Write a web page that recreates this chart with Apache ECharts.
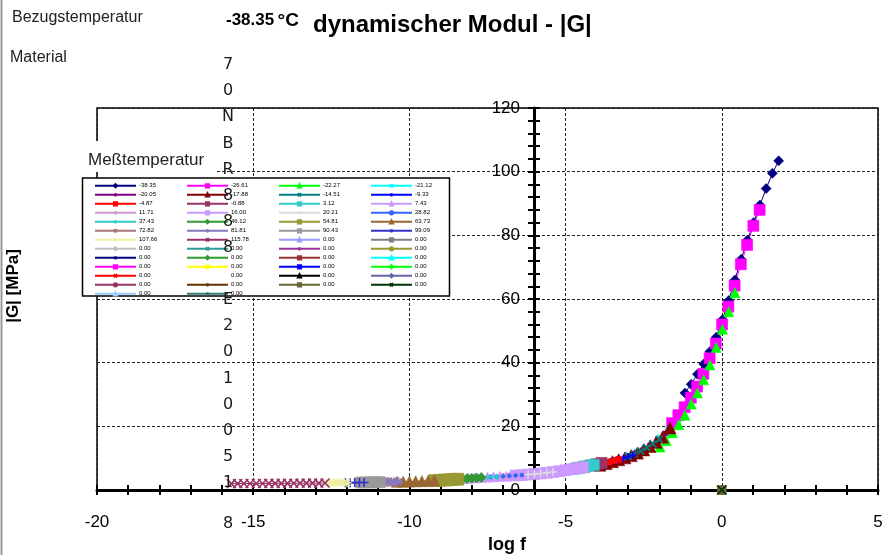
<!DOCTYPE html>
<html><head><meta charset="utf-8">
<script src="https://cdn.jsdelivr.net/npm/echarts@6/dist/echarts.min.js"></script>
<style>html,body{margin:0;padding:0;background:#fff}#c{width:889px;height:555px}</style>
</head><body><div id="c"></div>
<script>
// ---------- data (log f, |G| in MPa) ----------
const temperatures = ['-38.35','-26.61','-22.27','-21.12','-20.05','-17.88','-14.51','-9.33','-4.87','-0.88',
  '3.12','7.43','11.71','16.00','20.21','28.82','37.43','46.12','54.81','63.73','72.82','81.81','90.43','99.09',
  '107.66','115.78','0.00','0.00','0.00','0.00','0.00','0.00','0.00','0.00','0.00','0.00','0.00','0.00','0.00',
  '0.00','0.00','0.00','0.00','0.00','0.00','0.00','0.00','0.00','0.00','0.00'];

const pts_m38_35 = [[-1.18,30.5],[-0.98,33.2],[-0.78,36.4],[-0.58,39.6],[-0.38,43.5],[-0.18,48.0],[0.02,53.5],[0.22,59.5],[0.42,66.0],[0.62,72.5],[0.82,78.5],[1.02,84.0],[1.22,89.5],[1.42,94.7],[1.62,99.5],[1.82,103.4]];
const pts_m26_61 = [[-1.59,21.0],[-1.39,23.5],[-1.19,26.0],[-0.99,29.0],[-0.79,32.5],[-0.59,36.5],[-0.39,41.4],[-0.19,46.0],[0.01,52.0],[0.21,57.6],[0.41,64.2],[0.61,70.9],[0.81,77.0],[1.01,83.0],[1.21,88.0]];
const pts_m22_27 = [[-1.98,13.5],[-1.78,15.5],[-1.58,18.0],[-1.38,20.5],[-1.18,23.5],[-0.98,27.0],[-0.78,30.5],[-0.58,34.6],[-0.38,39.3],[-0.18,44.8],[0.02,50.5],[0.22,56.0],[0.42,62.0]];
const pts_m21_12 = [[-3.7,8.5],[-3.45,9.1],[-3.2,9.9],[-2.95,10.7],[-2.7,11.8],[-2.45,13.1],[-2.2,14.6],[-1.95,16.4],[-1.7,18.6]];
const pts_m20_05 = [[-3.8,8.3],[-3.55,8.9],[-3.3,9.6],[-3.05,10.4],[-2.8,11.4],[-2.55,12.5],[-2.3,14.0],[-2.05,15.7],[-1.8,17.8]];
const pts_m17_88 = [[-3.9,7.8],[-3.7,8.3],[-3.5,8.9],[-3.3,9.5],[-3.1,10.1],[-2.9,10.8],[-2.7,11.6],[-2.5,12.6],[-2.3,13.7],[-2.1,15.0],[-1.9,16.6],[-1.66,19.5]];
const pts_m14_51 = [[-3.0,10.5],[-2.8,11.3],[-2.6,12.2],[-2.4,13.3],[-2.2,14.5],[-2.0,15.9]];
const pts_m9_33  = [[-3.6,8.8],[-3.45,9.2],[-3.3,9.6],[-3.15,10.0],[-3.0,10.5],[-2.85,11.0]];
const pts_m4_87  = [[-3.75,8.4],[-3.6,8.8],[-3.45,9.2],[-3.3,9.6]];
const pts_m0_88  = [[-4.6,6.9],[-4.4,7.3],[-4.2,7.7],[-4.0,8.1],[-3.85,8.5]];
const pts_3_12   = [[-4.7,6.7],[-4.55,7.0],[-4.4,7.3],[-4.25,7.6],[-4.1,7.9]];
const pts_7_43   = [[-8.3,3.6],[-8.1,3.7],[-7.9,3.8],[-7.7,3.95],[-7.5,4.05],[-7.3,4.15],[-7.1,4.25],[-6.9,4.35],[-6.7,4.5],[-6.5,4.6]];
const pts_11_71  = [[-7.0,4.3],[-6.8,4.45],[-6.6,4.55],[-6.4,4.7],[-6.2,4.85],[-6.0,5.0]];
const pts_16_00  = [[-6.6,4.55],[-6.4,4.7],[-6.2,4.85],[-6.0,5.0],[-5.8,5.2],[-5.6,5.4],[-5.4,5.65],[-5.2,5.9],[-5.0,6.2],[-4.8,6.5],[-4.6,6.85],[-4.45,7.1]];
const pts_20_21  = [[-6.2,4.85],[-6.0,5.0],[-5.8,5.2],[-5.6,5.4],[-5.4,5.65]];
const pts_28_82  = [[-7.4,4.1],[-7.2,4.2],[-7.0,4.3],[-6.8,4.45],[-6.6,4.55],[-6.4,4.7]];
const pts_37_43  = [[-7.8,3.85],[-7.65,3.92],[-7.5,4.0],[-7.35,4.08],[-7.2,4.2]];
const pts_46_12  = [[-8.45,3.4],[-8.3,3.5],[-8.15,3.6],[-8.0,3.7],[-7.85,3.8],[-7.7,3.9]];
const pts_54_81  = [[-9.2,2.95],[-9.05,3.03],[-8.9,3.12],[-8.75,3.2],[-8.6,3.3],[-8.45,3.4]];
const pts_63_73  = [[-10.4,2.57],[-10.2,2.62],[-10.0,2.66],[-9.8,2.72],[-9.6,2.78],[-9.4,2.86],[-9.2,2.95]];
const pts_72_82  = [[-11.0,2.45],[-10.85,2.48],[-10.7,2.5],[-10.55,2.53]];
const pts_81_81  = [[-10.8,2.48],[-10.65,2.51],[-10.5,2.55],[-10.35,2.58]];
const pts_90_43  = [[-11.55,2.36],[-11.4,2.38],[-11.25,2.41],[-11.1,2.43],[-10.95,2.46]];
const pts_99_09  = [[-12.05,2.29],[-11.9,2.31],[-11.75,2.33],[-11.6,2.35],[-11.45,2.37]];
const pts_107_66 = [[-12.6,2.2],[-12.45,2.22],[-12.3,2.25],[-12.15,2.27],[-12.0,2.3]];
const pts_115_78 = [[-15.7,2.0],[-15.5,2.02],[-15.3,2.03],[-15.1,2.05],[-14.9,2.05],[-14.7,2.06],[-14.5,2.07],[-14.3,2.08],[-14.1,2.09],[-13.9,2.1],[-13.7,2.12],[-13.5,2.14],[-13.3,2.15],[-13.1,2.17],[-12.9,2.18],[-12.7,2.2]];
const pts_zero   = [[0,0]];

const seriesPoints = [pts_m38_35,pts_m26_61,pts_m22_27,pts_m21_12,pts_m20_05,pts_m17_88,pts_m14_51,pts_m9_33,pts_m4_87,pts_m0_88,
  pts_3_12,pts_7_43,pts_11_71,pts_16_00,pts_20_21,pts_28_82,pts_37_43,pts_46_12,pts_54_81,pts_63_73,pts_72_82,pts_81_81,pts_90_43,pts_99_09,
  pts_107_66,pts_115_78];
// ---------- styles ----------
const colors = ['#000080','#FF00FF','#00FF00','#00FFFF','#800080','#800000','#008080','#0000FF','#FF0000','#993366',
  '#33CCCC','#CC99FF','#CC99CC','#CC99FF','#DDDDDD','#3366FF','#33CCCC','#339933','#999933','#996633','#AA7777','#8877BB','#999999','#3333CC',
  '#EEEEA0','#993366','#9999FF','#808080','#C0C0C0','#339999','#993399','#999933','#000080','#339933','#993333','#00FFFF',
  '#FF00FF','#FFFF00','#0000FF','#00FF00','#FF0000','#FFFFFF','#000000','#6666AA','#993366','#663300','#666633','#003300','#99CCFF','#337777'];
const SYM = {
  diamond:'diamond', square:'rect', triangle:'triangle', circle:'circle',
  x:'path://M0,0L10,10M10,0L0,10',
  plus:'path://M5,0L5,10M0,5L10,5',
  star:'path://M5,0L5,10M0,5L10,5M1.5,1.5L8.5,8.5M8.5,1.5L1.5,8.5'
};
const markers = ['diamond','square','triangle','x','star','triangle','x','plus','square','square',
  'square','triangle','star','square','plus','circle','plus','diamond','square','triangle','x','star','square','plus',
  'star','x','triangle','square','diamond','x','star','circle','plus','diamond','square','triangle',
  'square','circle','square','diamond','x','star','triangle','diamond','circle','plus','square','x','triangle','star'];
const sizes = [10,11,10,7,7,12,7,7,6,11,11,10,7,11,8,4,6,10,12,11,9,9,11,9,9,9];

const names = temperatures.map((t,i)=>t+'#'+i);
const series = names.map((n,i)=>{
  const m = markers[i];
  const isPath = SYM[m].indexOf('path://')===0;
  let data = i < seriesPoints.length ? seriesPoints[i] : [];
  if (i === 46 || i === 47) data = pts_zero;
  return {
    type:'line', name:n, data:data, xAxisIndex:0, yAxisIndex:0,
    symbol:SYM[m], symbolSize: i < sizes.length ? sizes[i] : 9,
    showSymbol:true, animation:false, clip:true,
    lineStyle:{color:colors[i], width:1},
    itemStyle:{color:colors[i], borderColor:colors[i], borderWidth:isPath?1.6:0.6},
    emphasis:{disabled:true}
  };
});

const legendCols = [94,186,278,370];
const legends = legendCols.map((x,c)=>({
  orient:'vertical', left:x, top:181.3, padding:0, itemGap:0, itemWidth:41, itemHeight:4,
  selectedMode:false, z:20,
  data: names.filter((n,i)=>i%4===c),
  formatter: n => n.split('#')[0],
  textStyle:{fontSize:6, lineHeight:9, color:'#000', fontFamily:'Liberation Sans', padding:[0,0,0,-2]}
}));

const font = 'Liberation Sans';
const axisX = (main)=>({
  type:'value', min:-20, max:5, interval:5, position:'bottom', gridIndex:0,
  axisLine:{show:main, onZero:false, lineStyle:{color:'#000', width:3}},
  axisTick:{show:true, inside:!main, length:5, lineStyle:{color:'#000', width:2}},
  minorTick:{show:true, splitNumber:5, length:5, lineStyle:{color:'#000', width:2}},
  axisLabel:{show:main, margin:24, fontSize:17, color:'#000', fontFamily:font},
  splitLine:{show:main, lineStyle:{color:'#222', width:1, type:[3,2]}}
});
const axisY = (main)=>({
  type:'value', min:0, max:120, interval:20, position:'left', offset:-437, gridIndex:0,
  axisLine:{show:main, onZero:false, lineStyle:{color:'#000', width:3}},
  axisTick:{show:true, inside:!main, length:6, lineStyle:{color:'#000', width:2}},
  minorTick:{show:true, splitNumber:5, length:6, lineStyle:{color:'#000', width:2}},
  axisLabel:{show:main, margin:14, fontSize:17, color:'#000', fontFamily:font},
  splitLine:{show:main, lineStyle:{color:'#222', width:1, type:[3,2]}}
});

const vText1 = '7\n0\nN\nB\nR\n8\n8\n8';
const vText2 = 'E\n2\n0\n1\n0\n0\n5\n1';
const vStyle = {fill:'#1a1a1a', font:'16px "DejaVu Sans"', lineHeight:26.1, align:'center', verticalAlign:'top'};

const option = {
  animation:false,
  backgroundColor:'#fff',
  grid:{left:97, right:11, top:108, bottom:65, show:true, borderColor:'#000', borderWidth:1.5,
        backgroundColor:'transparent', containLabel:false, outerBoundsMode:'none'},
  xAxis:[axisX(true), axisX(false)],
  yAxis:[axisY(true), axisY(false)],
  legend:legends,
  series:series,
  graphic:[
    {type:'line', shape:{x1:1.5,y1:0,x2:1.5,y2:555}, style:{stroke:'#999', lineWidth:2}, z:1},
    {type:'text', left:12, top:10, style:{text:'Bezugstemperatur', fill:'#222', font:'16px "Liberation Sans"'}},
    {type:'text', left:10, top:50, style:{text:'Material', fill:'#222', font:'16px "Liberation Sans"'}},
    {type:'text', left:226, top:11, style:{text:'{a|-38.35} {b|°C}', rich:{a:{font:'bold 17px "Liberation Sans"', fill:'#000'}, b:{font:'bold 19px "Liberation Sans"', fill:'#000'}}}},
    {type:'text', left:313, top:13, style:{text:'dynamischer Modul - |G|', fill:'#000', font:'bold 24px "Liberation Sans"'}},
    {type:'rect', shape:{x:80, y:141, width:135, height:31}, style:{fill:'#fff'}, z:9},
    {type:'text', left:88, top:152, z:12, style:{text:'Meßtemperatur', fill:'#222', font:'17px "Liberation Sans"'}},
    {type:'rect', shape:{x:82.5, y:178, width:367, height:118}, style:{fill:'#fff', stroke:'#000', lineWidth:1.5}, z:10},
    {type:'text', x:228, y:52, z:30, style:Object.assign({text:vText1}, vStyle)},
    {type:'text', x:228, y:287, z:30, style:Object.assign({text:vText2}, vStyle)},
    {type:'text', x:228, y:511, z:30, style:Object.assign({text:'8'}, vStyle)},
    {type:'text', x:13, y:286, rotation:Math.PI/2, z:30, style:{text:'|G| [MPa]', fill:'#000', font:'bold 17px "Liberation Sans"', align:'center', verticalAlign:'middle'}},
    {type:'text', x:507, y:545, z:30, style:{text:'log f', fill:'#000', font:'bold 18px "Liberation Sans"', align:'center', verticalAlign:'middle'}}
  ]
};
const chart = echarts.init(document.getElementById('c'), null, {renderer:'canvas'});
chart.setOption(option);
</script></body></html>
